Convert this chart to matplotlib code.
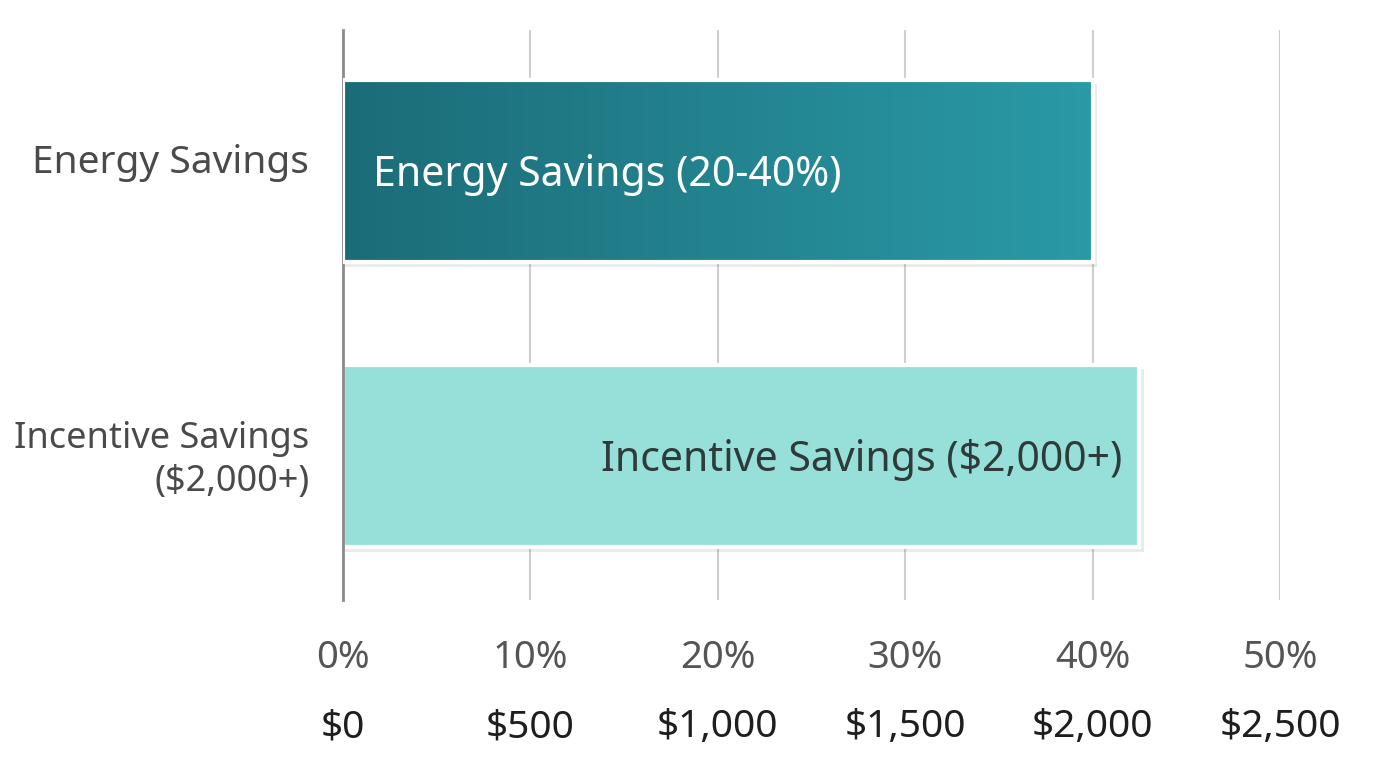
import numpy as np
import matplotlib.pyplot as plt
from matplotlib.colors import LinearSegmentedColormap
from matplotlib.transforms import blended_transform_factory

plt.rcParams['font.family'] = ['Noto Sans', 'DejaVu Sans']

# data
categories = ["Energy Savings", "Incentive Savings\n($2,000+)"]
bar_texts = ["Energy Savings (20-40%)", "Incentive Savings ($2,000+)"]
energy_pct = 40.0          # upper end of 20-40%
incentive_dollars = 2125.0  # bar runs a little past $2,000
dollars_per_pct = 50.0      # 10% <-> $500
pct_ticks = [0, 10, 20, 30, 40, 50]
pct_labels = ["0%", "10%", "20%", "30%", "40%", "50%"]
dollar_labels = ["$0", "$500", "$1,000", "$1,500", "$2,000", "$2,500"]

values = [energy_pct, incentive_dollars / dollars_per_pct]

fig = plt.figure(figsize=(13.76, 7.68), dpi=100)
ax = fig.add_axes([343 / 1376, 1 - 600 / 768, (1280 - 343) / 1376, 570 / 768])
ax.set_xlim(0, 50)
ax.set_ylim(1.505, -0.495)

h = 0.64
ypos = [0, 1]

# soft shadows
for y, v in zip(ypos, values):
    ax.barh(y + 0.015, v + 0.15, height=h, left=0.1, color="#000000", alpha=0.08, zorder=1)

bars = ax.barh(ypos, values, height=h, color=["#237f8b", "#96e0d9"],
               edgecolor="white", linewidth=3, zorder=2)

# gradient on the energy bar
grad = np.linspace(0, 1, 256).reshape(1, -1)
cmap = LinearSegmentedColormap.from_list("teal", ["#1b6c78", "#2a9aa6"])
im = ax.imshow(grad, cmap=cmap, aspect="auto", zorder=2.5,
               extent=[0, values[0], ypos[0] + h / 2, ypos[0] - h / 2])
im.set_clip_path(bars[0])
# redraw white edge on top
ax.barh(ypos[0], values[0], height=h, color="none", edgecolor="white", linewidth=3, zorder=3)

# labels inside bars
ax.text(1.6, ypos[0] + 0.015, bar_texts[0], color="white", fontsize=29.5,
        ha="left", va="center", zorder=4)
ax.text(values[1] - 0.9, ypos[1] + 0.015, bar_texts[1], color="#2f3a3a", fontsize=29.5,
        ha="right", va="center", zorder=4)

# grid
ax.set_xticks(pct_ticks)
ax.grid(axis="x", color="#cfcfcf", linewidth=1.5, zorder=0)
ax.set_axisbelow(True)
for s in ["top", "right", "bottom"]:
    ax.spines[s].set_visible(False)
ax.spines["left"].set_color("#8a8a8a")
ax.spines["left"].set_linewidth(2)
ax.tick_params(axis="both", length=0, labelbottom=False)
ax.set_yticks([])

# category labels
ax.text(-1.8, ypos[0] - 0.03, categories[0], ha="right", va="center",
        fontsize=28, color="#4a4a4a")
ax.text(-1.8, ypos[1] + 0.015, categories[1], ha="right", va="center",
        fontsize=26, color="#4a4a4a", multialignment="right", linespacing=1.25)

# two rows of x labels
tr = blended_transform_factory(ax.transData, fig.transFigure)
for t, p, d in zip(pct_ticks, pct_labels, dollar_labels):
    ax.text(t, 1 - 658 / 768, p, transform=tr, ha="center", va="center",
            fontsize=27.5, color="#555555")
    ax.text(t, 1 - 727 / 768, d, transform=tr, ha="center", va="center",
            fontsize=28, color="#1e1e1e")

plt.savefig("out.png", dpi=100, facecolor="white")
